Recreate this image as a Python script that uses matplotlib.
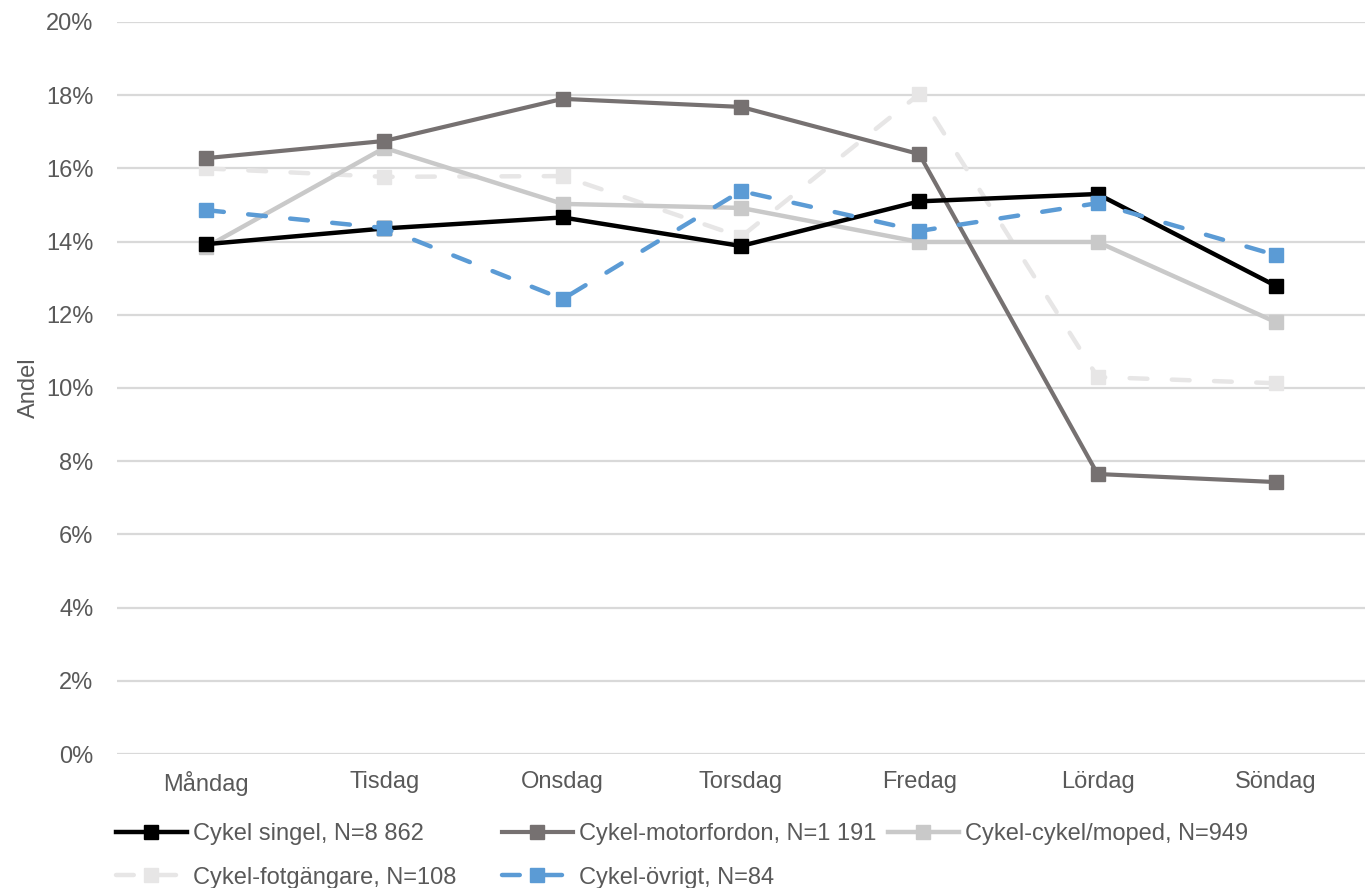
import matplotlib
matplotlib.use('Agg')
import matplotlib.pyplot as plt
import numpy as np

plt.rcParams['font.family'] = ['Liberation Sans', 'DejaVu Sans']

dagar = ['Måndag', 'Tisdag', 'Onsdag', 'Torsdag', 'Fredag', 'Lördag', 'Söndag']

singel = [13.93, 14.36, 14.66, 13.88, 15.10, 15.30, 12.79]
motorfordon = [16.28, 16.75, 17.90, 17.68, 16.39, 7.65, 7.43]
moped = [13.85, 16.56, 15.03, 14.92, 13.99, 13.99, 11.80]
fotgangare = [16.00, 15.77, 15.79, 14.13, 18.03, 10.30, 10.13]
ovrigt = [14.86, 14.37, 12.43, 15.38, 14.29, 15.05, 13.63]

namn = ['Cykel singel, N=8 862', 'Cykel-motorfordon, N=1 191', 'Cykel-cykel/moped, N=949',
        'Cykel-fotgängare, N=108', 'Cykel-övrigt, N=84']

yticks = [0, 2, 4, 6, 8, 10, 12, 14, 16, 18, 20]

txt = '#595959'
fs = 17

fig = plt.figure(figsize=(13.65, 8.88), dpi=100)
ax = fig.add_axes([117/1365, 134/888, 1 - 117/1365, 732/888])

x = np.arange(len(dagar))
l1, = ax.plot(x, singel, color='#000000', lw=3.2, marker='s', ms=10, label=namn[0], zorder=5)
l2, = ax.plot(x, motorfordon, color='#767171', lw=3.0, marker='s', ms=10, label=namn[1], zorder=4)
l3, = ax.plot(x, moped, color='#C9C9C9', lw=3.2, marker='s', ms=10, label=namn[2], zorder=3)
l4, = ax.plot(x, fotgangare, color='#E7E6E6', lw=3.2, marker='s', ms=10, label=namn[3],
              dashes=(4, 5.5), dash_capstyle='round', zorder=2)
l5, = ax.plot(x, ovrigt, color='#5B9BD5', lw=3.2, marker='s', ms=10, label=namn[4],
              dashes=(4, 5.5), dash_capstyle='round', zorder=6)

ax.set_xlim(-0.5, 6.5)
ax.set_ylim(0, 20)
ax.set_yticks(yticks)
ax.set_yticklabels([f'{v}%' for v in yticks])
ax.set_xticks(x)
ax.set_xticklabels(dagar)
ax.grid(axis='y', color='#D9D9D9', lw=1.6)
ax.set_axisbelow(True)
for s in ax.spines.values():
    s.set_visible(False)
ax.tick_params(axis='both', length=0, labelsize=fs, labelcolor=txt)
ax.tick_params(axis='y', pad=17)
ax.tick_params(axis='x', pad=12)
ax.set_ylabel('Andel', fontsize=fs, color=txt, labelpad=4)

kol = [([l1, l4], 116), ([l2, l5], 502), ([l3], 888)]
for h, xp in kol:
    fig.legend(handles=h, loc='upper left', bbox_to_anchor=(xp/1365, 1 - 823/888),
               frameon=False, fontsize=fs, labelcolor=txt, handlelength=3.0,
               handletextpad=0.25, borderpad=0, borderaxespad=0, labelspacing=0.92)

fig.savefig('out.png', dpi=100)
